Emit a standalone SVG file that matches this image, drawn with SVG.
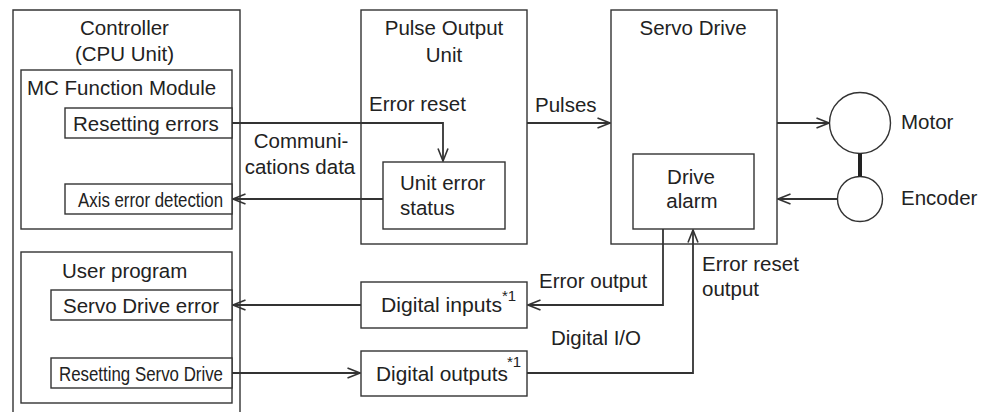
<svg xmlns="http://www.w3.org/2000/svg" width="982" height="412" viewBox="0 0 982 412">
<style>
.box{fill:#fff;stroke:#333;stroke-width:1.4}
.ln{fill:none;stroke:#333;stroke-width:1.8}
text{font-family:"Liberation Sans",Arial,sans-serif;font-size:20.5px;fill:#222}
.c{text-anchor:middle}
.sup{font-size:15px}
</style>
<defs>
<marker id="ah" viewBox="0 0 14 12" refX="13" refY="6" markerWidth="14" markerHeight="12" markerUnits="userSpaceOnUse" orient="auto">
<path d="M0.5,1 L13,6 L0.5,11" fill="none" stroke="#333" stroke-width="1.6"/>
</marker>
</defs>
<rect width="982" height="412" fill="#fff"/>

<g id="controller">
<path class="ln" style="stroke-width:1.4" d="M13,412 V10 H240 V412"/>
<text class="c" x="124.5" y="35">Controller</text>
<text class="c" x="124.5" y="61">(CPU Unit)</text>
</g>
<g id="mc-module">
<rect class="box" x="21" y="70" width="211" height="159"/>
<text x="27" y="95">MC Function Module</text>
</g>
<g id="resetting-errors">
<rect class="box" x="65" y="108" width="167" height="30"/>
<text x="73" y="130.5">Resetting errors</text>
</g>
<g id="axis-error">
<rect class="box" x="65" y="184" width="167" height="30"/>
<text x="78" y="206.5" textLength="145" lengthAdjust="spacingAndGlyphs">Axis error detection</text>
</g>
<g id="user-program">
<rect class="box" x="21" y="252" width="211" height="151"/>
<text x="62" y="278">User program</text>
</g>
<g id="servo-drive-error">
<rect class="box" x="51" y="290" width="181" height="30"/>
<text x="63" y="312.5">Servo Drive error</text>
</g>
<g id="resetting-servo">
<rect class="box" x="51" y="358" width="181" height="30"/>
<text x="59" y="380.5" textLength="164" lengthAdjust="spacingAndGlyphs">Resetting Servo Drive</text>
</g>

<g id="pulse-output-unit">
<rect class="box" x="361" y="10" width="166" height="234"/>
<text class="c" x="444" y="35">Pulse Output</text>
<text class="c" x="444" y="62">Unit</text>
</g>
<g id="unit-error-status">
<rect class="box" x="383" y="162" width="122" height="67"/>
<text x="400" y="190">Unit error</text>
<text x="400" y="215">status</text>
</g>

<g id="servo-drive">
<rect class="box" x="611" y="10" width="166" height="234"/>
<text class="c" x="693" y="35">Servo Drive</text>
</g>
<g id="drive-alarm">
<rect class="box" x="633" y="154" width="121" height="75"/>
<text class="c" x="691" y="184">Drive</text>
<text class="c" x="692" y="208">alarm</text>
</g>

<g id="motor">
<circle class="box" cx="860" cy="123" r="30.5"/>
<text x="901" y="129">Motor</text>
</g>
<g id="encoder">
<circle class="box" cx="860" cy="199" r="22.5"/>
<text x="901" y="205">Encoder</text>
</g>

<g id="digital-inputs">
<rect class="box" x="361" y="282" width="166" height="46"/>
<text x="381" y="312" textLength="121" lengthAdjust="spacingAndGlyphs">Digital inputs</text>
<text class="sup" x="502" y="301">*1</text>
</g>
<g id="digital-outputs">
<rect class="box" x="361" y="351" width="166" height="45"/>
<text x="376" y="381" textLength="132" lengthAdjust="spacingAndGlyphs">Digital outputs</text>
<text class="sup" x="507" y="367">*1</text>
</g>

<g id="connectors">
<path class="ln" marker-end="url(#ah)" d="M232,123 H443 V161"/>
<path class="ln" marker-end="url(#ah)" d="M383,199 H233"/>
<path class="ln" marker-end="url(#ah)" d="M527,123 H610"/>
<path class="ln" marker-end="url(#ah)" d="M777,123 H829"/>
<path class="ln" marker-end="url(#ah)" d="M837,199 H778"/>
<path fill="none" stroke="#222" stroke-width="4" d="M860,153.5 V176.5"/>
<path class="ln" marker-end="url(#ah)" d="M663,229 V305 H528"/>
<path class="ln" marker-end="url(#ah)" d="M361,305 H233"/>
<path class="ln" marker-end="url(#ah)" d="M232,373 H360"/>
<path class="ln" marker-end="url(#ah)" d="M527,373 H693 V230"/>
<text x="369" y="111">Error reset</text>
<text x="535" y="112">Pulses</text>
<text class="c" x="301" y="148">Communi-</text>
<text class="c" x="300" y="174">cations data</text>
<text x="539" y="288">Error output</text>
<text x="551" y="345">Digital I/O</text>
<text x="702" y="271">Error reset</text>
<text x="702" y="296">output</text>
</g>
</svg>
